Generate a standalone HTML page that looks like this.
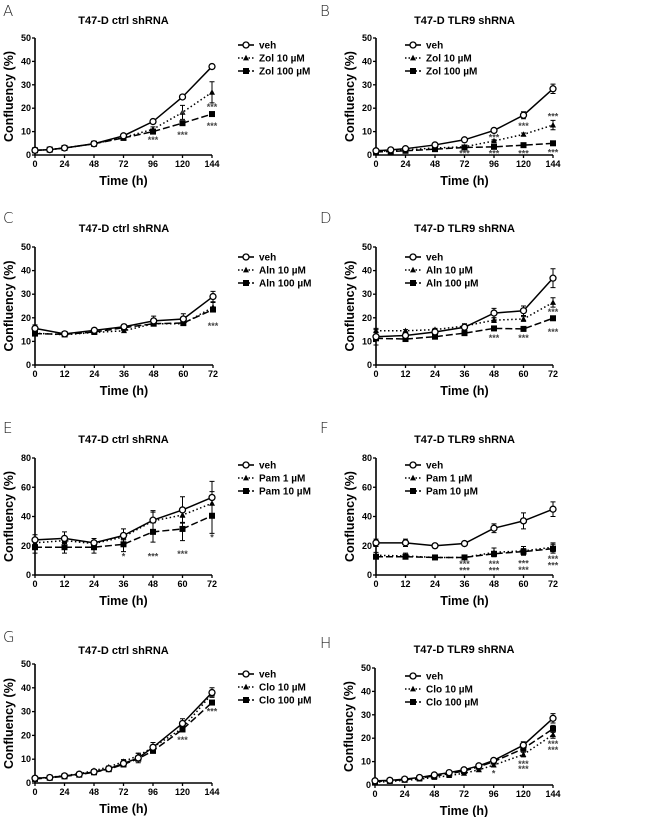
<!DOCTYPE html>
<html><head><meta charset="utf-8"><style>
html,body{margin:0;padding:0;background:#fff;}
svg{display:block;font-family:"Liberation Sans",Arial,sans-serif;}
</style></head><body>
<svg id="fig" width="650" height="817" viewBox="0 0 650 817" xmlns="http://www.w3.org/2000/svg"></svg>
<script>
// ---- data ----
const tA = [0,12,24,48,72,96,120,144];
const aVeh = [2,2.3,3,4.8,8.2,14.3,24.8,37.8];
const aZ10 = [2,2.3,3,4.8,7.5,11,18.2,26.8];
const aZ100 = [2,2.3,3,4.8,7.3,10,13.6,17.5];
const aVehE = [0,0,0,0,0.5,0.8,0.6,0.6];
const aZ10E = [0,0,0,0,0.5,1,3,4.5];
const aZ100E = [0,0,0,0,0.3,0.5,0.5,0.5];

const bVeh = [1.8,2.2,2.7,4.3,6.5,10.5,17,28.3];
const bZ10 = [1.5,1.8,2.2,3,3.5,6,8.8,12.8];
const bZ100 = [1.3,1.5,1.8,2.5,3.2,3.5,4.2,5];
const bVehE = [0.3,0.3,0.3,0.4,0.5,0.8,1.5,2];
const bZ10E = [0,0,0,0,0.4,0.5,0.6,2];
const bZ100E = [0,0,0,0,0.2,0.3,0.3,0.4];

const tC = [0,12,24,36,48,60,72];
const cVeh = [15.5,13.2,14.7,16.2,18.7,19.5,29];
const cA10 = [13.5,12.8,13.8,14.5,17.5,17.5,24.5];
const cA100 = [13.3,13,14,15.8,17.5,17.8,23.5];
const cVehE = [1.5,1,1,1,2,2.2,2.2];
const cA10E = [0.5,0.5,0.5,0.5,0.5,0.5,2];
const cA100E = [0.5,0.8,0.8,1,1,0.8,1];

const dVeh = [12,12.5,14,16,22,23,36.8];
const dA10 = [14.5,14.5,15,16.5,19,19.5,26.5];
const dA100 = [11.3,11,12,13.5,15.5,15.3,19.8];
const dVehE = [3.5,1,1,1.5,2,2,4];
const dA10E = [0.5,0.5,0.5,0.5,1,1,2];
const dA100E = [0.5,0.5,0.5,0.5,0.5,0.5,0.5];

const eVeh = [24,25,22,27,37.5,44.5,53];
const eP1 = [22,23.5,21.5,26,37,41,49];
const eP10 = [19,19,19,21,29.5,31.5,40.5];
const eVehE = [3.5,4.5,3,4.5,6.5,9,11];
const eP1E = [2,2,2,2,6,5,8];
const eP10E = [4,4,4,5,7,8,12];

const fVeh = [22,22,20,21.5,32,37,45];
const fP1 = [13.5,13,12,12,15.5,16.5,19];
const fP10 = [12.5,12.5,12,12,14.5,16,18];
const fVehE = [2.5,2.5,1.5,1,3,5.5,5];
const fP1E = [2,2,1,1,3,3,3];
const fP10E = [1.5,1.5,1,1,1.5,2,3];

const tG = [0,12,24,36,48,60,72,84,96,120,144];
const gVeh = [2,2.3,3,3.7,4.7,6,8.2,10.5,15,25,38];
const gC10 = [2,2.4,3.1,3.9,5.2,6.7,9,11.5,15,23,37.5];
const gC100 = [1.7,2.2,2.8,3.5,4.5,5.8,7.8,10.2,13.5,22.5,33.8];
const gVehE = [0.3,0.3,0.3,0.4,0.5,0.6,1.5,2,2,2,2];
const gC10E = [0.3,0.3,0.3,0.3,0.4,0.5,0.8,1,1,1,1];
const gC100E = [0.2,0.2,0.2,0.3,0.3,0.4,0.5,0.5,0.5,0.5,0.5];

const hVeh = [1.8,2,2.5,3.2,4.3,5.3,6.5,8.2,10.5,17,28.5];
const hC10 = [1.2,1.5,2,2.5,3.2,4,5,6.5,8.5,13,21.5];
const hC100 = [1.5,1.8,2.3,3,3.8,4.8,6,7.8,10,15.5,24];
const hVehE = [0.3,0.3,0.3,0.3,0.4,0.4,0.5,0.6,0.8,1.5,2];
const hC10E = [0.2,0.2,0.2,0.3,0.3,0.3,0.4,0.5,0.5,1,1.5];
const hC100E = [0.2,0.2,0.2,0.3,0.3,0.3,0.4,0.5,0.5,1,1.5];

const ticks144 = [0,24,48,72,96,120,144];
const ticks72 = [0,12,24,36,48,60,72];
const ticksY50 = [0,10,20,30,40,50];
const ticksY80 = [0,20,40,60,80];

const starsA = [[96,6.5,"***"],[120,17.5,"*"],[120,8.5,"***"],[144,20.5,"***"],[144,12.5,"***"]];
const starsB = [[72,0.6,"***"],[96,7.5,"***"],[96,0.6,"***"],[120,12.5,"***"],[120,0.6,"***"],[144,16.5,"***"],[144,1,"***"]];
const starsC = [[72,16.5,"***"]];
const starsD = [[72,22.5,"***"],[72,14,"***"],[48,11.5,"***"],[60,11.5,"***"]];
const starsE = [[36,12.5,"*"],[48,12.5,"***"],[60,14.5,"***"],[72,25.5,"*"]];
const starsF = [[36,7.5,"***"],[36,3,"***"],[48,7.5,"***"],[48,3,"***"],[60,8,"***"],[60,3.5,"***"],[72,11,"***"],[72,6.5,"***"]];
const starsG = [[120,18,"***"],[144,30,"***"]];
const starsH = [[96,5,"*"],[120,9,"***"],[120,6.8,"***"],[144,17.5,"***"],[144,15,"***"]];

// ---- drawing ----
const NS = "http://www.w3.org/2000/svg";
const svg = document.getElementById('fig');
function mk(tag, attrs, parent){
  const e = document.createElementNS(NS, tag);
  for (const k in attrs) e.setAttribute(k, attrs[k]);
  (parent||svg).appendChild(e);
  return e;
}
const styles = [
  {dash:null, marker:'circle'},
  {dash:'1.5,2.5', marker:'tri'},
  {dash:'7,3', marker:'square'}
];
function marker(g, m, x, y){
  let el;
  if (m==='circle') el = mk('circle',{cx:x,cy:y,r:3,fill:'#fff',stroke:'#000','stroke-width':1.3},g);
  else if (m==='tri') el = mk('polygon',{points:`${x},${y-3.2} ${x-3},${y+2.4} ${x+3},${y+2.4}`,fill:'#000'},g);
  else el = mk('rect',{x:x-3,y:y-3,width:6,height:6,fill:'#000'},g);
  return el;
}
function panel(p){
  const g = mk('g',{});
  
  
  const sx = v => p.x0 + (v/p.xmax)*(p.x1-p.x0);
  const sy = v => p.yBot - (v/p.ymax)*(p.yBot-p.yTop);
  const lt = mk('text',{x:p.lx,y:p.ly,'font-size':15,'font-family':'DejaVu Sans, sans-serif','font-weight':'200',fill:'#222'},g);
  lt.textContent = p.letter;
  
  
  const tt = mk('text',{x:(p.x0+p.x1)/2,y:p.ty,'font-size':11,'font-weight':'bold','text-anchor':'middle'},g);
  tt.textContent = p.title;
  
  
  // axes
  const ax = mk('path',{d:`M${p.x0},${p.yTop}V${p.yBot}H${p.x1}`,stroke:'#000','stroke-width':1.6,fill:'none'},g);
  
  
  p.yTicks.forEach(v=>{
    const y = sy(v);
    mk('line',{x1:p.x0-3,x2:p.x0,y1:y,y2:y,stroke:'#000','stroke-width':1.3},g);
    const t = mk('text',{x:p.x0-4,y:y+3,'font-size':9,'font-weight':'bold','text-anchor':'end'},g);
    t.textContent = v;
    
    
  });
  p.xTicks.forEach(v=>{
    const x = sx(v);
    mk('line',{x1:x,x2:x,y1:p.yBot,y2:p.yBot+3,stroke:'#000','stroke-width':1.3},g);
    const t = mk('text',{x:x,y:p.yBot+12,'font-size':9,'font-weight':'bold','text-anchor':'middle'},g);
    t.textContent = v;
    
    
  });
  const xt = mk('text',{x:(p.x0+p.x1)/2,y:p.yBot+30,'font-size':12.5,'font-weight':'bold','text-anchor':'middle'},g);
  xt.textContent = 'Time (h)';
  
  
  const ycx = p.x0-22, ycy = (p.yTop+p.yBot)/2;
  const yt = mk('text',{x:ycx,y:ycy,'font-size':12.5,'font-weight':'bold','text-anchor':'middle',transform:`rotate(-90 ${ycx} ${ycy})`},g);
  yt.textContent = 'Confluency (%)';
  
  
  // series (draw dashed/dotted first, then solid on top? keep order)
  [2,1,0].forEach(i=>{
    const s = p.series[i], st = styles[i];
    const sg = mk('g',{},g);
    
    
    const d = s.vals.map((v,j)=>(j?'L':'M')+sx(p.t[j])+','+sy(v)).join('');
    const pa = {d:d,stroke:'#000','stroke-width':1.5,fill:'none'};
    if (st.dash) pa['stroke-dasharray'] = st.dash;
    mk('path',pa,sg);
    s.vals.forEach((v,j)=>{
      const e = s.errs[j];
      if (e>0.3){
        const x = sx(p.t[j]);
        mk('path',{d:`M${x},${sy(v-e)}V${sy(v+e)}M${x-2.5},${sy(v+e)}H${x+2.5}M${x-2.5},${sy(v-e)}H${x+2.5}`,stroke:'#000','stroke-width':1,fill:'none'},sg);
      }
    });
    s.vals.forEach((v,j)=>{
      const m = marker(sg, st.marker, sx(p.t[j]), sy(v));
      
      
    });
  });
  // stars
  p.stars.forEach(s=>{
    const t = mk('text',{x:sx(s[0]),y:sy(s[1])+3,'font-size':9,'font-weight':'bold','text-anchor':'middle',fill:'#444'},g);
    t.textContent = s[2];
    
    
  });
  // legend
  const lg = mk('g',{},g);
  
  
  p.series.forEach((s,i)=>{
    const st = styles[i];
    const y = p.legY + i*13;
    const eg = mk('g',{},lg);
    
    
    const la = {x1:p.legX,x2:p.legX+16,y1:y,y2:y,stroke:'#000','stroke-width':1.6};
    if (st.dash) la['stroke-dasharray'] = i===1?'1.5,2':'5,2';
    mk('line',la,eg);
    marker(eg, st.marker, p.legX+8, y);
    const t = mk('text',{x:p.legX+21,y:y+3.5,'font-size':10,'font-weight':'bold'},eg);
    t.textContent = s.label;
  });
}
function S(key,label,vals,errs){return {key,label,vals,errs};}
const L = {x0:35,x1:212}, R = {x0:376,x1:553};
panel({letter:'A',lx:3,ly:16,title:'T47-D ctrl shRNA',ty:24,...L,yTop:38,yBot:155,xmax:144,ymax:50,t:tA,xTicks:ticks144,yTicks:ticksY50,legX:238,legY:45,stars:starsA,
  series:[S('veh','veh',aVeh,aVehE),S('zol10','Zol 10 µM',aZ10,aZ10E),S('zol100','Zol 100 µM',aZ100,aZ100E)]});
panel({letter:'B',lx:320,ly:16,title:'T47-D TLR9 shRNA',ty:24,...R,yTop:38,yBot:155,xmax:144,ymax:50,t:tA,xTicks:ticks144,yTicks:ticksY50,legX:405,legY:45,stars:starsB,
  series:[S('veh','veh',bVeh,bVehE),S('zol10','Zol 10 µM',bZ10,bZ10E),S('zol100','Zol 100 µM',bZ100,bZ100E)]});
panel({letter:'C',lx:3,ly:223,title:'T47-D ctrl shRNA',ty:232,...L,x1:213,yTop:247,yBot:365,xmax:72,ymax:50,t:tC,xTicks:ticks72,yTicks:ticksY50,legX:238,legY:257,stars:starsC,
  series:[S('veh','veh',cVeh,cVehE),S('aln10','Aln 10 µM',cA10,cA10E),S('aln100','Aln 100 µM',cA100,cA100E)]});
panel({letter:'D',lx:320,ly:223,title:'T47-D TLR9 shRNA',ty:232,...R,yTop:247,yBot:365,xmax:72,ymax:50,t:tC,xTicks:ticks72,yTicks:ticksY50,legX:405,legY:257,stars:starsD,
  series:[S('veh','veh',dVeh,dVehE),S('aln10','Aln 10 µM',dA10,dA10E),S('aln100','Aln 100 µM',dA100,dA100E)]});
panel({letter:'E',lx:3,ly:433,title:'T47-D ctrl shRNA',ty:443,...L,yTop:458,yBot:575,xmax:72,ymax:80,t:tC,xTicks:ticks72,yTicks:ticksY80,legX:238,legY:465,stars:starsE,
  series:[S('veh','veh',eVeh,eVehE),S('pam1','Pam 1 µM',eP1,eP1E),S('pam10','Pam 10 µM',eP10,eP10E)]});
panel({letter:'F',lx:320,ly:433,title:'T47-D TLR9 shRNA',ty:443,...R,yTop:458,yBot:575,xmax:72,ymax:80,t:tC,xTicks:ticks72,yTicks:ticksY80,legX:405,legY:465,stars:starsF,
  series:[S('veh','veh',fVeh,fVehE),S('pam1','Pam 1 µM',fP1,fP1E),S('pam10','Pam 10 µM',fP10,fP10E)]});
panel({letter:'G',lx:3,ly:642,title:'T47-D ctrl shRNA',ty:654,...L,yTop:664,yBot:783,xmax:144,ymax:50,t:tG,xTicks:ticks144,yTicks:ticksY50,legX:238,legY:674,stars:starsG,
  series:[S('veh','veh',gVeh,gVehE),S('clo10','Clo 10 µM',gC10,gC10E),S('clo100','Clo 100 µM',gC100,gC100E)]});
panel({letter:'H',lx:320,ly:648,title:'T47-D TLR9 shRNA',ty:653,...R,x0:375,yTop:668,yBot:785,xmax:144,ymax:50,t:tG,xTicks:ticks144,yTicks:ticksY50,legX:405,legY:676,stars:starsH,
  series:[S('veh','veh',hVeh,hVehE),S('clo10','Clo 10 µM',hC10,hC10E),S('clo100','Clo 100 µM',hC100,hC100E)]});
</script>
</body></html>
